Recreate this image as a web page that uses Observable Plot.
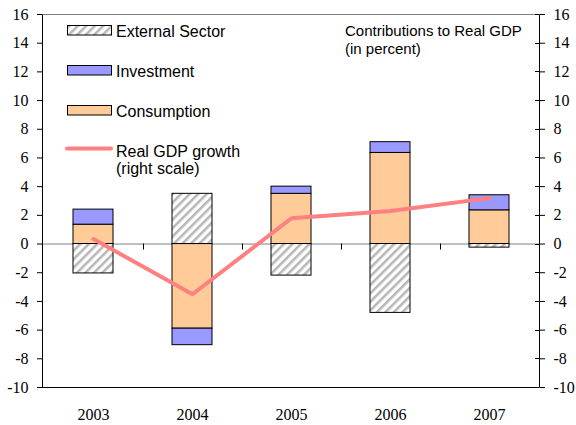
<!DOCTYPE html>
<html>
<head>
<meta charset="utf-8">
<script src="https://cdn.jsdelivr.net/npm/d3@7"></script>
<script src="https://cdn.jsdelivr.net/npm/@observablehq/plot@0.6"></script>
<style>
  html, body { margin: 0; padding: 0; background: white; }
</style>
</head>
<body>
<div id="chart"></div>
<script>
const years = ["2003", "2004", "2005", "2006", "2007"];
const consumption = [1.35, -5.9, 3.5, 6.35, 2.35];
const investment = [1.05, -1.15, 0.5, 0.75, 1.05];
const external = [-2.05, 3.5, -2.2, -4.8, -0.25];
const gdpGrowth = [0.35, -3.5, 1.8, 2.3, 3.2];
const components = ["Consumption", "Investment", "External Sector"];
const yTicks = [-10, -8, -6, -4, -2, 0, 2, 4, 6, 8, 10, 12, 14, 16];
const titleLines = ["Contributions to Real GDP", "(in percent)"];

const stackData = [];
years.forEach((yr, i) => {
  stackData.push({year: yr, component: "Consumption", value: consumption[i]});
  stackData.push({year: yr, component: "Investment", value: investment[i]});
  stackData.push({year: yr, component: "External Sector", value: external[i]});
});
const lineData = years.map((yr, i) => ({year: yr, value: gdpGrowth[i]}));

const serif = "Liberation Serif";
const sans = "Liberation Sans";
const fmt = d => String(d);

const chart = Plot.plot({
  width: 576,
  height: 425,
  marginLeft: 42,
  marginRight: 37,
  marginTop: 14,
  marginBottom: 38,
  style: {fontSize: "16px", color: "black", background: "white"},
  x: {domain: years, paddingInner: 0.6, paddingOuter: 0.3},
  y: {domain: [-10, 16]},
  color: {domain: components, range: ["#ffcc99", "#9999ff", "url(#hatch)"]},
  marks: [
    Plot.ruleY([0], {stroke: "#808080", strokeWidth: 1}),
    Plot.barY(stackData, {x: "year", y: "value", fill: "component", stroke: "black", strokeWidth: 1}),
    Plot.ruleY([16], {stroke: "#808080"}),
    Plot.ruleY([-10], {stroke: "black"}),
    Plot.axisY({anchor: "left", ticks: yTicks, tickFormat: fmt, tickSize: 5, tickPadding: 9, label: null, fontSize: 16, fontFamily: serif}),
    Plot.axisY({anchor: "right", ticks: yTicks, tickFormat: fmt, tickSize: 5, tickPadding: 9, label: null, fontSize: 16, fontFamily: serif}),
    Plot.axisX({anchor: "bottom", tickSize: 0, tickPadding: 21, label: null, fontSize: 16, fontFamily: serif}),
    Plot.line(lineData, {x: "year", y: "value", stroke: "#ff8080", strokeWidth: 4, strokeLinecap: "round", strokeLinejoin: "round"})
  ]
});

document.getElementById("chart").appendChild(chart);

const svg = d3.select(chart);
// hatch pattern
const defs = svg.insert("defs", ":first-child");
const pat = defs.append("pattern")
  .attr("id", "hatch")
  .attr("patternUnits", "userSpaceOnUse")
  .attr("width", 6)
  .attr("height", 6)
  .attr("patternTransform", "rotate(45)");
pat.append("rect").attr("width", 6).attr("height", 6).attr("fill", "white");
pat.append("rect").attr("x", 0).attr("width", 2.6).attr("height", 6).attr("fill", "#b8b8b8");

const xS = chart.scale("x");
const yS = chart.scale("y");
const [x0, x1] = xS.range;
const yTop = yS.apply(16), yBot = yS.apply(-10), yZero = yS.apply(0);

const g = svg.append("g");
g.append("line").attr("x1", x0 + 0.5).attr("x2", x0 + 0.5).attr("y1", yTop + 0.5).attr("y2", yBot + 0.5).attr("stroke", "black");
g.append("line").attr("x1", x1 + 0.5).attr("x2", x1 + 0.5).attr("y1", yTop + 0.5).attr("y2", yBot + 0.5).attr("stroke", "black");
yTicks.forEach(t => {
  const yy = Math.round(yS.apply(t)) + 0.5;
  g.append("line").attr("x1", x1 - 4).attr("x2", x1 + 0.5).attr("y1", yy).attr("y2", yy).attr("stroke", "black");
});
const gap = (xS.step - xS.bandwidth) / 2;
years.slice(1).forEach(yr => {
  const bx = Math.round(xS.apply(yr) - gap) + 0.5;
  g.append("line").attr("x1", bx).attr("x2", bx).attr("y1", yZero).attr("y2", yZero + 6).attr("stroke", "black");
});

// legend
const leg = svg.append("g").attr("font-family", sans).attr("font-size", 16).attr("fill", "black").attr("text-anchor", "start");
const legItems = [
  {label: "External Sector", fill: "url(#hatch)", y: 25.5},
  {label: "Investment", fill: "#9999ff", y: 65.5},
  {label: "Consumption", fill: "#ffcc99", y: 105.5}
];
legItems.forEach(it => {
  leg.append("rect").attr("x", 67.5).attr("y", it.y).attr("width", 44).attr("height", 9.5)
    .attr("fill", it.fill).attr("stroke", "black").attr("stroke-width", 1);
  leg.append("text").attr("x", 116).attr("y", it.y + 11).text(it.label);
});
leg.append("line").attr("x1", 67).attr("x2", 111).attr("y1", 148.5).attr("y2", 148.5)
  .attr("stroke", "#ff8080").attr("stroke-width", 4).attr("stroke-linecap", "round");
leg.append("text").attr("x", 116).attr("y", 156.5).text("Real GDP growth");
leg.append("text").attr("x", 116).attr("y", 174).text("(right scale)");

const ttl = svg.append("g").attr("font-family", sans).attr("font-size", 15).attr("fill", "black").attr("text-anchor", "start");
titleLines.forEach((t, i) => ttl.append("text").attr("x", 345).attr("y", 36 + i * 18).text(t));
</script>
</body>
</html>
